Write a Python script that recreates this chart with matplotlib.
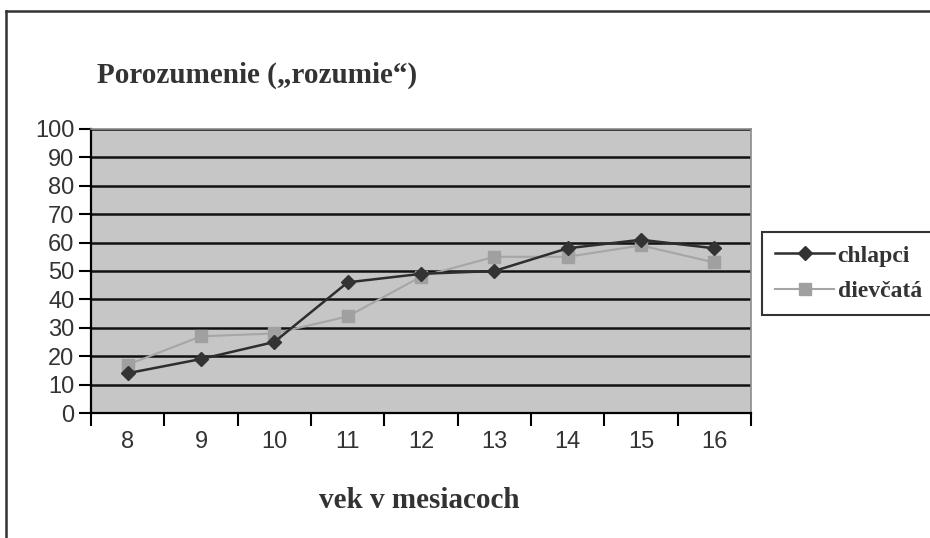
import matplotlib
matplotlib.use("Agg")
import matplotlib.pyplot as plt
from matplotlib.lines import Line2D

# Data: comprehension score by age in months
months = ["8", "9", "10", "11", "12", "13", "14", "15", "16"]
chlapci = [14, 19, 25, 46, 49, 50, 58, 61, 58]
dievcata = [17, 27, 28, 34, 48, 55, 55, 59, 53]
y_ticks = [0, 10, 20, 30, 40, 50, 60, 70, 80, 90, 100]

SERIF = "Liberation Serif"
SANS = "Liberation Sans"

fig = plt.figure(figsize=(9.3, 5.38), dpi=100)
fig.patch.set_facecolor("white")
ax = fig.add_axes([91 / 930, 1 - 413 / 538, 660 / 930, 284 / 538])
ax.set_facecolor("#c6c6c6")

x = list(range(len(months)))
ax.plot(x, dievcata, color="#a6a6a6", lw=1.5, marker="s", ms=8,
        mfc="#a0a0a0", mec="#a0a0a0", label="dievčatá", zorder=3)
ax.plot(x, chlapci, color="#2e2e2e", lw=1.8, marker="D", ms=7,
        mfc="#333333", mec="#333333", label="chlapci", zorder=4)

ax.set_xlim(-0.5, len(months) - 0.5)
ax.set_ylim(0, 100)
ax.set_yticks(y_ticks)
ax.set_yticklabels([str(v) for v in y_ticks], fontfamily=SANS, fontsize=17, color="#333333")
ax.yaxis.grid(True, color="#111111", lw=1.8)
ax.set_axisbelow(True)

# category labels centered, tick marks on the category boundaries
ax.set_xticks(x)
ax.set_xticklabels(months, fontfamily=SANS, fontsize=17, color="#333333")
ax.set_xticks([i - 0.5 for i in range(len(months) + 1)], minor=True)
ax.tick_params(axis="x", which="major", length=0, pad=13)
ax.tick_params(axis="x", which="minor", length=9, width=1.5, color="black", direction="out")
ax.tick_params(axis="y", length=9, width=1.5, color="black", direction="out", pad=3)

for side in ("top", "right"):
    ax.spines[side].set_color("#8c8c8c")
    ax.spines[side].set_linewidth(1.2)
for side in ("left", "bottom"):
    ax.spines[side].set_color("black")
    ax.spines[side].set_linewidth(1.6)

fig.text(97 / 930, 1 - 75 / 538, "Porozumenie („rozumie“)", fontfamily=SERIF,
         fontweight="bold", fontsize=21, color="#333333", ha="left", va="center")
fig.text(419 / 930, 1 - 500 / 538, "vek v mesiacoch", fontfamily=SERIF,
         fontweight="bold", fontsize=21, color="#333333", ha="center", va="center")

handles = [
    Line2D([], [], color="#2e2e2e", lw=1.8, marker="D", ms=7, mfc="#333333", mec="#333333"),
    Line2D([], [], color="#a6a6a6", lw=1.5, marker="s", ms=8, mfc="#a0a0a0", mec="#a0a0a0"),
]
leg = fig.legend(handles, ["chlapci", "dievčatá"], loc="upper left",
                 bbox_to_anchor=(762 / 930, 1 - 232 / 538),
                 prop={"family": SERIF, "weight": "bold", "size": 17},
                 frameon=True, fancybox=False, handlelength=2.5, handletextpad=0.15,
                 borderpad=0.55, labelspacing=0.6, borderaxespad=0)
leg.get_frame().set_edgecolor("black")
leg.get_frame().set_linewidth(1.5)
for t in leg.get_texts():
    t.set_color("#333333")

# outer chart border (left and top edges)
fig.add_artist(Line2D([6 / 930, 6 / 930], [0, 1 - 11 / 538], color="#333333", lw=1.8))
fig.add_artist(Line2D([6 / 930, 1], [1 - 11 / 538, 1 - 11 / 538], color="#333333", lw=1.8))

fig.savefig("out.png", dpi=100)
